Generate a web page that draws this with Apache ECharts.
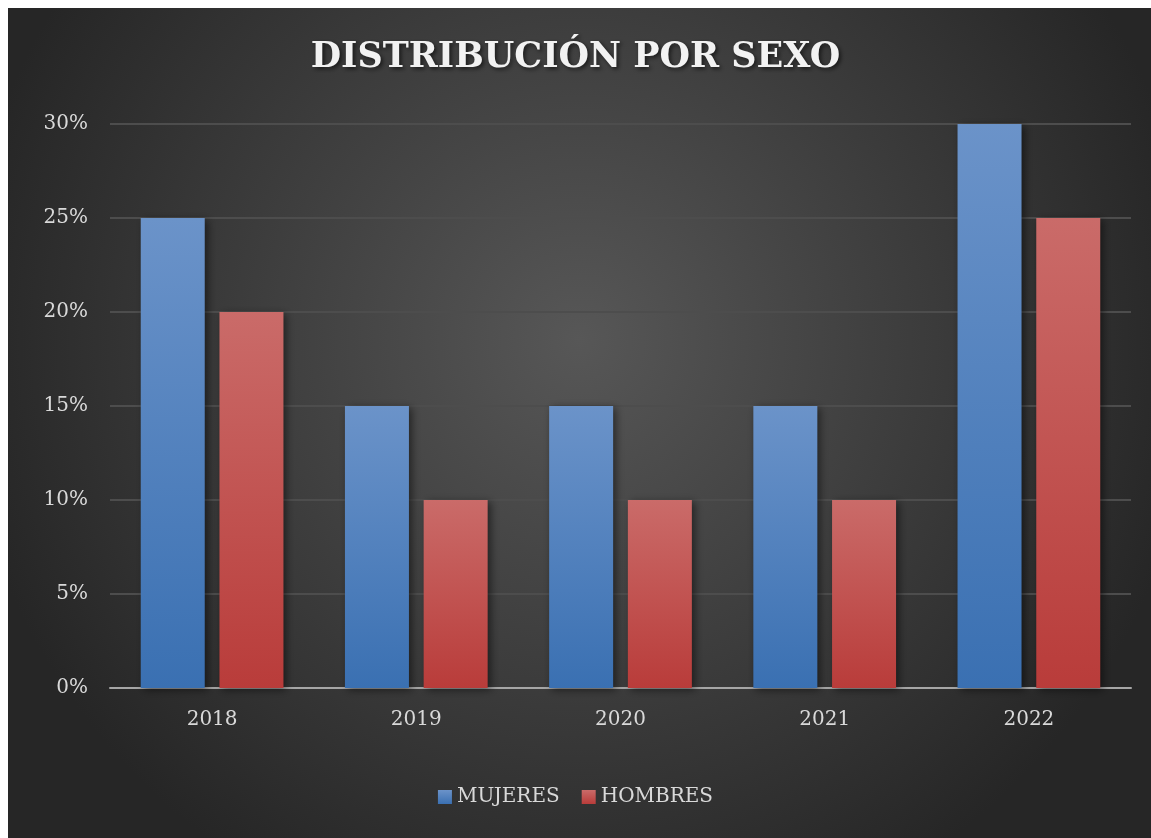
<!DOCTYPE html>
<html><head><meta charset="utf-8">
<script src="https://cdn.jsdelivr.net/npm/echarts@6/dist/echarts.min.js"></script>
<style>html,body{margin:0;padding:0;background:#fff}#c{width:1151px;height:838px}</style>
</head><body><div id="c"></div>
<script>
const categories = ['2018', '2019', '2020', '2021', '2022'];
const mujeres = [25, 15, 15, 15, 30];
const hombres = [20, 10, 10, 10, 25];
const seriesNames = ['MUJERES', 'HOMBRES'];
const titleText = 'DISTRIBUCIÓN POR SEXO';

const FONT = 'DejaVu Serif';
const chart = echarts.init(document.getElementById('c'));
const grad = (top, bottom) => new echarts.graphic.LinearGradient(0, 0, 0, 1, [
  {offset: 0, color: top}, {offset: 1, color: bottom}]);
chart.setOption({
  backgroundColor: '#ffffff',
  animation: false,
  graphic: [{
    type: 'rect', z: -10, silent: true,
    shape: {x: 8, y: 8, width: 1143, height: 830},
    style: {fill: new echarts.graphic.RadialGradient(0.5, 0.4, 0.75, [
      {offset: 0, color: '#575757'}, {offset: 1, color: '#262626'}])}
  }],
  title: {
    text: titleText, left: 'center', top: 35,
    textStyle: {fontFamily: FONT, fontWeight: 'bold', fontSize: 35, color: '#f2f2f2',
      textShadowColor: 'rgba(0,0,0,0.6)', textShadowBlur: 4, textShadowOffsetX: 2, textShadowOffsetY: 2}
  },
  legend: {
    data: seriesNames, bottom: 26, left: 'center', icon: 'rect', itemWidth: 14, itemHeight: 14, itemGap: 22,
    textStyle: {fontFamily: FONT, fontSize: 20, color: '#d9d9d9'}
  },
  grid: {left: 110, right: 20, top: 124, bottom: 150, containLabel: false},
  xAxis: {
    type: 'category', data: categories,
    axisLine: {lineStyle: {color: '#a6a6a6', width: 2}},
    axisTick: {show: false},
    axisLabel: {fontFamily: FONT, fontSize: 20, color: '#d9d9d9', margin: 22}
  },
  yAxis: {
    type: 'value', min: 0, max: 30, interval: 5,
    axisLabel: {formatter: '{value}%', fontFamily: FONT, fontSize: 20, color: '#d9d9d9', margin: 22},
    splitLine: {lineStyle: {color: '#4d4d4d', width: 2}},
    axisLine: {show: false}, axisTick: {show: false}
  },
  series: [{
    name: seriesNames[0], type: 'bar', data: mujeres, barWidth: 64, barGap: '23%',
    itemStyle: {color: grad('#6b93c9', '#3a70b2'), shadowColor: 'rgba(0,0,0,0.5)', shadowBlur: 8, shadowOffsetX: 3, shadowOffsetY: 2}
  }, {
    name: seriesNames[1], type: 'bar', data: hombres, barWidth: 64,
    itemStyle: {color: grad('#ca6b69', '#b93c3a'), shadowColor: 'rgba(0,0,0,0.5)', shadowBlur: 8, shadowOffsetX: 3, shadowOffsetY: 2}
  }]
});
</script></body></html>
